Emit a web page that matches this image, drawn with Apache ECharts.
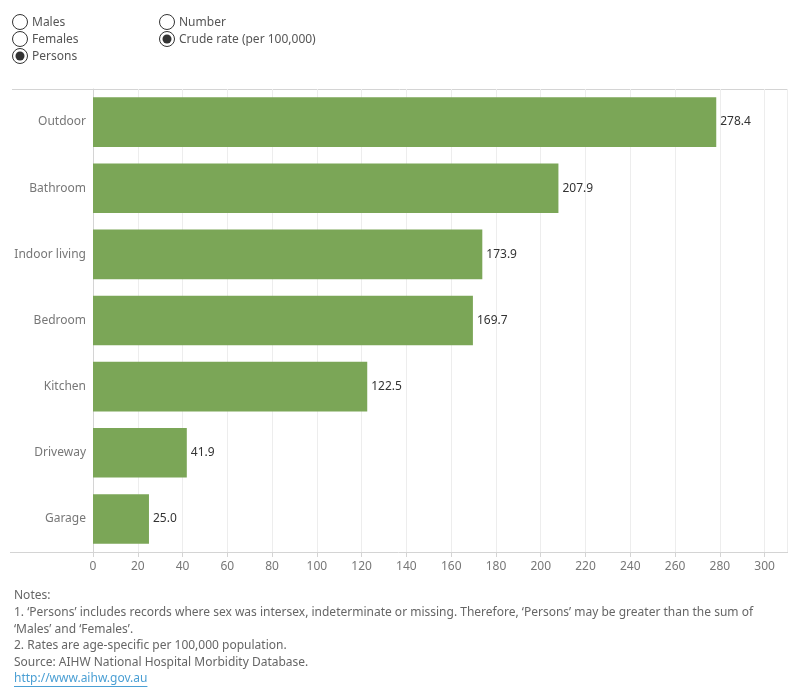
<!DOCTYPE html>
<html><head><meta charset="utf-8">
<script src="https://cdn.jsdelivr.net/npm/echarts@6/dist/echarts.min.js"></script>
<style>html,body{margin:0;padding:0;background:#fff}#c{width:800px;height:700px}</style>
</head><body><div id="c"></div>
<script>
const categories = ['Outdoor','Bathroom','Indoor living','Bedroom','Kitchen','Driveway','Garage'];
const rates = [278.4, 207.9, 173.9, 169.7, 122.5, 41.9, 25.0];
const sexOptions = ['Males','Females','Persons'];
const measureOptions = ['Number','Crude rate (per 100,000)'];
const notes = [
  'Notes:',
  "1. \u2018Persons\u2019 includes records where sex was intersex, indeterminate or missing. Therefore, \u2018Persons\u2019 may be greater than the sum of",
  "\u2018Males\u2019 and \u2018Females\u2019.",
  '2. Rates are age-specific per 100,000 population.',
  'Source: AIHW National Hospital Morbidity Database.'
];
const link = 'http://www.aihw.gov.au';

const FONT = '"Noto Sans", sans-serif';
const chart = echarts.init(document.getElementById('c'), null, {renderer:'canvas'});

const g = [];
function radio(cx, cy, label, selected) {
  g.push({type:'circle', shape:{cx:cx, cy:cy, r:7.5}, style:{fill:'#fff', stroke:'#333', lineWidth:1}});
  if (selected) g.push({type:'circle', shape:{cx:cx, cy:cy, r:4.5}, style:{fill:'#333'}});
  g.push({type:'text', x:cx+12, y:cy+1, style:{text:label, font:'12px '+FONT, fill:'#555', textVerticalAlign:'middle'}});
}
sexOptions.forEach((s,i)=>radio(20, 22+i*17, s, s==='Persons'));
measureOptions.forEach((s,i)=>radio(167, 22+i*17, s, i===1));

// frame lines
g.push({type:'line', shape:{x1:12,y1:89.5,x2:787,y2:89.5}, style:{stroke:'#d4d4d4', lineWidth:1}});
g.push({type:'line', shape:{x1:10,y1:552.5,x2:787,y2:552.5}, style:{stroke:'#d4d4d4', lineWidth:1}});
g.push({type:'line', shape:{x1:787.5,y1:89,x2:787.5,y2:553}, style:{stroke:'#d4d4d4', lineWidth:1}});

notes.forEach((t,i)=>g.push({type:'text', x:14, y:596+i*16.6, style:{text:t, font:'12px '+FONT, fill:'#666', textVerticalAlign:'middle'}}));
g.push({type:'text', x:14, y:679, style:{text:link, font:'12px '+FONT, fill:'#4a9fd4', textVerticalAlign:'middle'}});
const linkW = echarts.format.getTextRect ? echarts.format.getTextRect(link, '12px '+FONT).width : 137;
g.push({type:'line', shape:{x1:14,y1:686.5,x2:14+linkW,y2:686.5}, style:{stroke:'#4a9fd4', lineWidth:1}});

chart.setOption({
  animation:false,
  grid:{left:93, right:13, top:89, bottom:148, containLabel:false},
  xAxis:{type:'value', min:0, max:310, interval:20,
    axisLine:{show:false},
    axisTick:{show:true, length:5, lineStyle:{color:'#d4d4d4'}},
    axisLabel:{showMaxLabel:false, color:'#777', fontSize:12, fontFamily:FONT, margin:9},
    splitLine:{show:true, lineStyle:{color:'#ededed', width:1}}},
  yAxis:{type:'category', data:categories, inverse:true,
    axisLine:{show:true, lineStyle:{color:'#d4d4d4'}},
    axisTick:{show:false},
    axisLabel:{color:'#777', fontSize:12, fontFamily:FONT, margin:7, padding:[3,0,0,0]}},
  series:[{type:'bar', data:rates, barCategoryGap:'25%',
    itemStyle:{color:'#7ba657'},
    label:{show:true, position:'right', distance:4, color:'#333', fontSize:12, fontFamily:FONT,
      formatter:p=>p.value.toFixed(1)}}],
  graphic:g
});
</script></body></html>
